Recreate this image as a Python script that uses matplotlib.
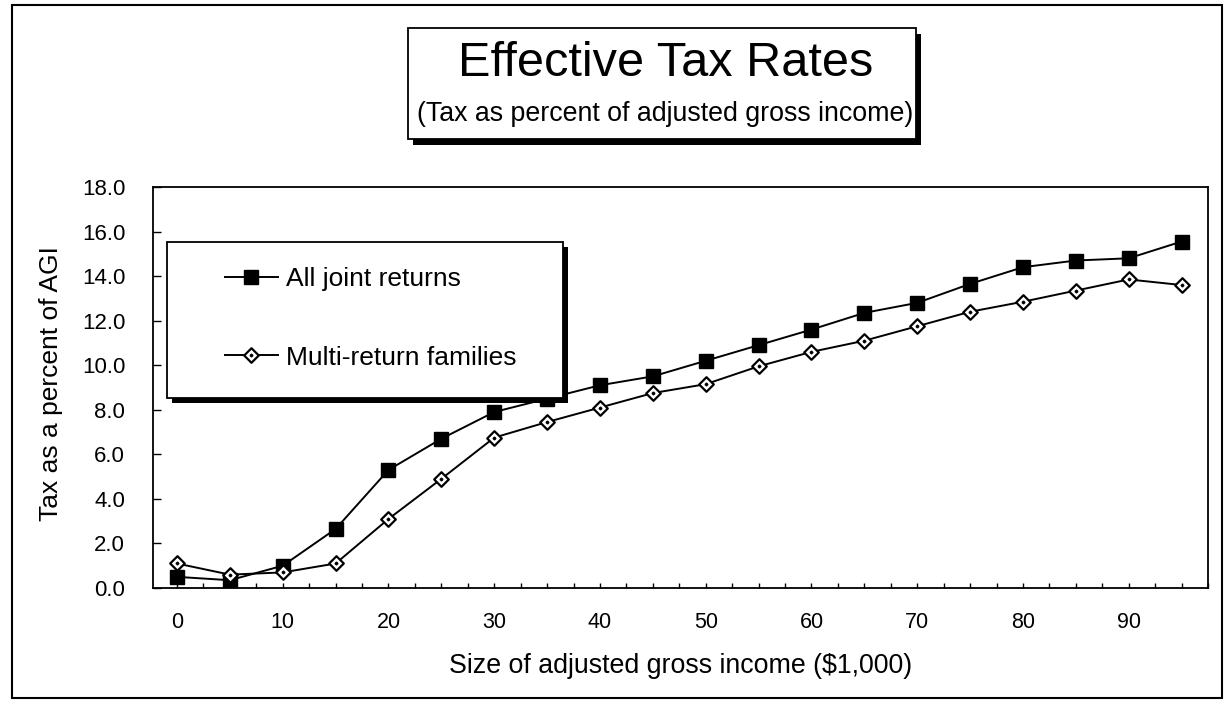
import matplotlib
matplotlib.use('Agg')
import matplotlib.pyplot as plt
from matplotlib.patches import Rectangle
from matplotlib.path import Path
from matplotlib.ticker import MultipleLocator, FormatStrFormatter

# ---------------- data ----------------
income = [0, 5, 10, 15, 20, 25, 30, 35, 40, 45, 50, 55, 60, 65, 70, 75, 80, 85, 90, 95]
all_joint = [0.5, 0.35, 1.0, 2.65, 5.3, 6.7, 7.9, 8.5, 9.1, 9.5, 10.2, 10.9, 11.6, 12.35,
             12.8, 13.65, 14.4, 14.7, 14.8, 15.55]
multi_return = [1.1, 0.6, 0.7, 1.1, 3.1, 4.9, 6.75, 7.45, 8.1, 8.75, 9.15, 9.95, 10.6, 11.1,
                11.75, 12.4, 12.85, 13.35, 13.85, 13.6]
series_labels = ['All joint returns', 'Multi-return families']
title = 'Effective Tax Rates'
subtitle = '(Tax as percent of adjusted gross income)'
xlabel = 'Size of adjusted gross income ($1,000)'
ylabel = 'Tax as a percent of AGI'
xtick_values = [0, 10, 20, 30, 40, 50, 60, 70, 80, 90]
ytick_values = [0, 2, 4, 6, 8, 10, 12, 14, 16, 18]

plt.rcParams['font.family'] = ['Liberation Sans', 'DejaVu Sans']

W, H = 1226, 705


def fx(px):
    return px / W


def fy(py):
    return 1 - py / H


fig = plt.figure(figsize=(W / 100, H / 100), dpi=100)
ax = fig.add_axes([fx(153), fy(588), fx(1208) - fx(153), fy(187) - fy(588)])

# diamond marker with a dot in its centre
s = 0.06
verts = [(0, -0.5), (0.5, 0), (0, 0.5), (-0.5, 0), (0, -0.5),
         (0, -s), (s, 0), (0, s), (-s, 0), (0, -s)]
codes = [Path.MOVETO, Path.LINETO, Path.LINETO, Path.LINETO, Path.CLOSEPOLY] * 2
dot_diamond = Path(verts, codes)

ax.plot(income, all_joint, color='black', lw=1.4, marker='s', ms=9.5,
        mfc='black', mec='black', label=series_labels[0], zorder=3)
ax.plot(income, multi_return, color='black', lw=1.4, marker=dot_diamond, ms=10.5,
        mfc='white', mec='black', mew=1.6, label=series_labels[1], zorder=3)

ax.set_xlim(-2.27, 97.5)
ax.set_ylim(0, 18)
ax.set_xticks(xtick_values)
ax.xaxis.set_minor_locator(MultipleLocator(2.5))
ax.set_yticks(ytick_values)
ax.yaxis.set_major_formatter(FormatStrFormatter('%.1f'))
ax.tick_params(axis='x', which='both', direction='in', length=3.5, width=1.0,
               pad=17, labelsize=15.5)
ax.tick_params(axis='y', direction='in', length=6, width=1.0, pad=20, labelsize=16)
for sp in ax.spines.values():
    sp.set_linewidth(1.3)
    sp.set_color('black')

ax.set_xlabel(xlabel, fontsize=19.3, labelpad=15)
ax.set_ylabel(ylabel, fontsize=19)
ax.yaxis.set_label_coords(-0.085, 0.51)

# legend box with shadow
ax.add_patch(Rectangle((fx(172), fy(403)), fx(563) - fx(167), fy(242) - fy(398),
                       transform=fig.transFigure, facecolor='black', edgecolor='black',
                       lw=0, zorder=4, clip_on=False))
ax.add_patch(Rectangle((fx(167), fy(398)), fx(563) - fx(167), fy(242) - fy(398),
                       transform=fig.transFigure, facecolor='white', edgecolor='black',
                       lw=1.3, zorder=4.5, clip_on=False))
leg = ax.legend(loc='center left', bbox_to_anchor=(fx(225), fy(318.5)),
                bbox_transform=fig.transFigure, frameon=False, borderpad=0,
                borderaxespad=0, handlelength=2.0, handletextpad=0.32,
                labelspacing=2.05, fontsize=19)
leg.set_zorder(5)

# title box with shadow
fig.add_artist(Rectangle((fx(413), fy(145)), fx(916) - fx(408), fy(28) - fy(139),
                         transform=fig.transFigure, facecolor='black', edgecolor='black',
                         lw=0, zorder=1))
fig.add_artist(Rectangle((fx(408), fy(139)), fx(916) - fx(408), fy(28) - fy(139),
                         transform=fig.transFigure, facecolor='white', edgecolor='black',
                         lw=1.3, zorder=2))
fig.text(fx(666), fy(63), title, ha='center', va='center', fontsize=35, zorder=3)
fig.text(fx(665), fy(114), subtitle, ha='center', va='center', fontsize=19.3, zorder=3)

# outer border
fig.add_artist(Rectangle((fx(12), fy(698)), fx(1222) - fx(12), fy(5) - fy(698),
                         transform=fig.transFigure, fill=False, edgecolor='black',
                         lw=1.5, zorder=1))

fig.savefig('out.png', dpi=100)
